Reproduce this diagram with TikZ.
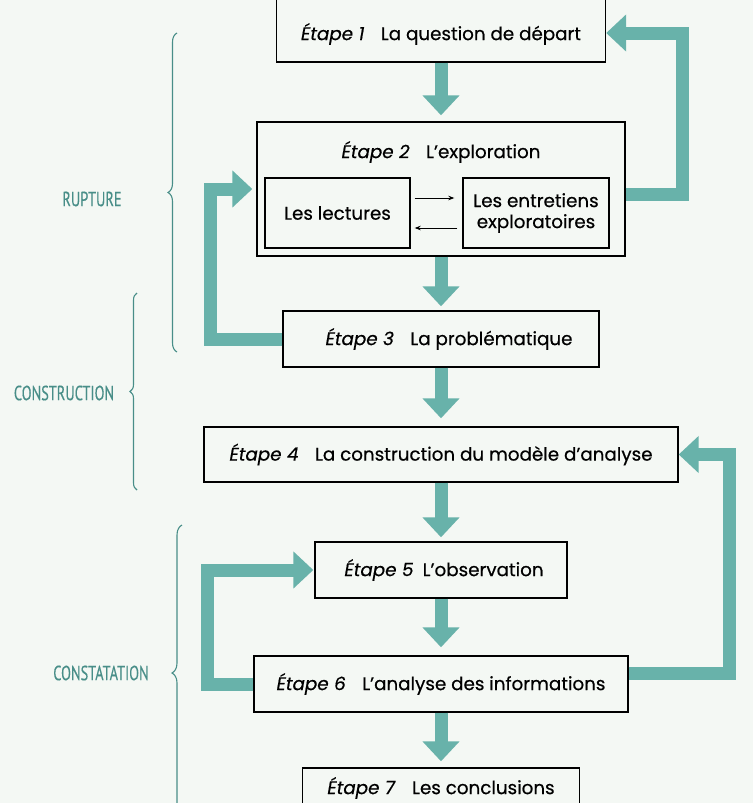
\documentclass[tikz,border=0pt]{standalone}
\usepackage{fontspec}
\setmainfont{Poppins}[FakeBold=0.5]
\newfontfamily\labfont{PT Sans}[FakeBold=0.4]
\usetikzlibrary{arrows.meta,decorations.pathreplacing,calc}
\definecolor{bg}{RGB}{244,248,244}
\definecolor{tealA}{RGB}{104,178,170}
\definecolor{tealT}{RGB}{72,142,136}
\begin{document}
\begin{tikzpicture}[x=1pt,y=-1pt,
  stepbox/.style={draw=black, line width=1.4pt, fill=bg, inner sep=0pt, align=center,
    font=\fontsize{18.3}{21}\selectfont},
  steptext/.style={inner sep=0pt, align=center, font=\fontsize{18.3}{21}\selectfont},
  bigarrow/.style={draw=tealA, line width=13pt, line join=miter,
    -{Triangle[width=36pt 0 0, length=20pt 0 0]}},
  smallarr/.style={draw=black, line width=0.8pt, -{Stealth[length=6pt, width=4.5pt]}},
  lab/.style={text=tealT, inner sep=0pt, font=\labfont\fontsize{20.5}{22}\selectfont},
  brc/.style={draw=tealT, line width=1.1pt, decorate, decoration={brace, amplitude=9pt}}
]
\useasboundingbox (0,0) rectangle (753,803);
\fill[bg] (0,0) rectangle (753,803);
\clip (0,0) rectangle (753,803);

% boxes
\node[stepbox, minimum width=329pt, minimum height=70pt] (b1) at (441,27) {};
\node[steptext] (t1) at (441,34) {\textit{Étape 1}\hspace{0.9em}La question de départ};
\node[stepbox, minimum width=368pt, minimum height=134pt] (b2) at (441,189) {};
\node[steptext] (t2) at (441,152) {\textit{Étape 2}\hspace{0.9em}L'exploration};
\node[stepbox, minimum width=145pt, minimum height=70pt] (bL) at (337.5,213) {Les lectures};
\node[stepbox, minimum width=146pt, minimum height=70pt] (bR) at (536,213)
  {Les entretiens\\exploratoires};
\node[stepbox, minimum width=316pt, minimum height=56pt] (b3) at (441,339)
  {\hspace{16pt}\textit{Étape 3}\hspace{0.9em}La problématique};
\node[stepbox, minimum width=474pt, minimum height=55pt] (b4) at (441,454.5)
  {\textit{Étape 4}\hspace{0.9em}La construction du modèle d'analyse};
\node[stepbox, minimum width=252pt, minimum height=56pt] (b5) at (441,570)
  {\hspace{6pt}\textit{Étape 5}\hspace{0.5em}L'observation};
\node[stepbox, minimum width=374pt, minimum height=56pt] (b6) at (441,684)
  {\textit{Étape 6}\hspace{0.9em}L'analyse des informations};
\node[stepbox, minimum width=277pt, minimum height=40pt] (b7) at (441,788)
  {\textit{Étape 7}\hspace{0.9em}Les conclusions};

% vertical arrows
\draw[bigarrow, shorten >=6pt] (b1.south) -- (b2.north);
\draw[bigarrow, shorten >=4pt] (b2.south) -- (b3.north);
\draw[bigarrow, shorten >=8pt] (b3.south) -- (b4.north);
\draw[bigarrow, shorten >=4pt] (b4.south) -- (b5.north);
\draw[bigarrow, shorten >=8pt] (b5.south) -- (b6.north);
\draw[bigarrow, shorten >=6pt] (b6.south) -- (b7.north);

% feedback loops
\coordinate (r1) at (682,0);
\coordinate (l1) at (210,0);
\coordinate (r2) at (729,0);
\coordinate (l2) at (207,0);
\draw[bigarrow] ([yshift=-5pt]b2.east) -- ([yshift=-5pt]b2.east -| r1) |- ([yshift=-6pt]b1.east);
\draw[bigarrow, shorten >=4pt] (b3.west) -- (b3.west -| l1) |- (b2.west);
\draw[bigarrow] ([yshift=11pt]b6.east) -- ([yshift=11pt]b6.east -| r2) |- (b4.east);
\draw[bigarrow, shorten >=1pt] (b6.west) -- (b6.west -| l2) |- (b5.west);

% inner arrows
\draw[smallarr, shorten <=4pt, shorten >=8pt] ([yshift=15pt]bL.east) -- ([yshift=15pt]bL.east -| bR.west);
\draw[smallarr, shorten <=5pt, shorten >=4pt] ([yshift=-15pt]bR.west) -- ([yshift=-15pt]bR.west -| bL.east);

% labels and braces
\node[lab] (lr) at (92,199) {\scalebox{0.7}[1]{RUPTURE}};
\node[lab] (lc) at (64,393) {\scalebox{0.7}[1]{CONSTRUCTION}};
\node[lab] (ls) at (101,673) {\scalebox{0.7}[1]{CONSTATATION}};
\draw[brc] (177,352) -- (177,33);
\draw[brc, decoration={brace, amplitude=7pt}] (137,490) -- (137,293);
\draw[brc, decoration={brace, amplitude=10pt}] (182,821) -- (182,525);
\end{tikzpicture}
\end{document}
